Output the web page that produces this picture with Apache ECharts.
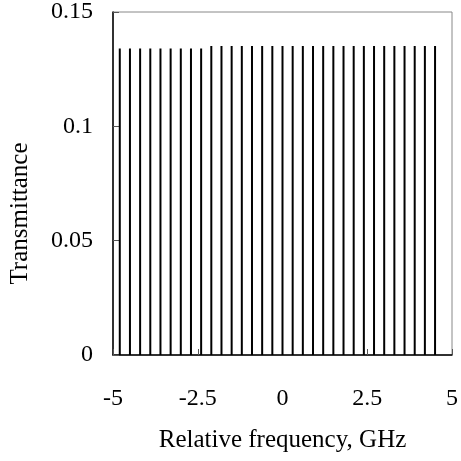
<!DOCTYPE html>
<html>
<head>
<meta charset="utf-8">
<script src="https://cdn.jsdelivr.net/npm/echarts@6/dist/echarts.min.js"></script>
<style>html,body{margin:0;padding:0;background:#fff;}#c{width:461px;height:461px;}</style>
</head>
<body>
<div id="c"></div>
<script>
// Peak positions (GHz) and peak transmittance values
const peakFreqs = [-4.8,-4.5,-4.2,-3.9,-3.6,-3.3,-3.0,-2.7,-2.4,-2.1,-1.8,-1.5,-1.2,-0.9,-0.6,-0.3,0,0.3,0.6,0.9,1.2,1.5,1.8,2.1,2.4,2.7,3.0,3.3,3.6,3.9,4.2,4.5];
const peakValues = [0.1340,0.1340,0.1340,0.1340,0.1340,0.1340,0.1340,0.1340,0.1340,0.1351,0.1351,0.1351,0.1351,0.1351,0.1351,0.1351,0.1351,0.1351,0.1351,0.1351,0.1351,0.1351,0.1351,0.1351,0.1351,0.1351,0.1351,0.1351,0.1351,0.1351,0.1351,0.1351];
const xTicks = {min: -5, max: 5, interval: 2.5};
const yTicks = {min: 0, max: 0.15, interval: 0.05};
const xTitle = 'Relative frequency, GHz';
const yTitle = 'Transmittance';

const font = 'Liberation Serif';
const chart = echarts.init(document.getElementById('c'), null, {renderer: 'canvas'});
chart.setOption({
  animation: false,
  backgroundColor: '#fff',
  grid: {left: 110, right: 5, top: 10, bottom: 106, show: true, borderColor: '#888', borderWidth: 1, backgroundColor: 'transparent'},
  xAxis: {
    type: 'value', min: xTicks.min, max: xTicks.max, interval: xTicks.interval,
    name: xTitle, nameLocation: 'middle', nameGap: 73,
    nameTextStyle: {fontFamily: font, fontSize: 25, color: '#000'},
    axisLine: {show: true, onZero: false, lineStyle: {color: '#000', width: 1.5}},
    axisTick: {show: true, inside: true, length: 6, lineStyle: {color: '#555'}},
    axisLabel: {fontFamily: font, fontSize: 24, color: '#000', margin: 32},
    splitLine: {show: false}
  },
  yAxis: {
    type: 'value', min: yTicks.min, max: yTicks.max, interval: yTicks.interval,
    name: yTitle, nameLocation: 'middle', nameGap: 80, nameRotate: 90,
    nameTextStyle: {fontFamily: font, fontSize: 25, color: '#000', padding: [0, 60, 0, 0]},
    axisLine: {show: true, onZero: false, lineStyle: {color: '#000', width: 1.5}},
    axisTick: {show: true, inside: true, length: 6, lineStyle: {color: '#555'}},
    axisLabel: {fontFamily: font, fontSize: 24, color: '#000', margin: 20,
      formatter: v => String(+v.toFixed(2))},
    splitLine: {show: false}
  },
  series: [{
    type: 'bar',
    data: peakFreqs.map((f, i) => [f, peakValues[i]]),
    barWidth: 2,
    itemStyle: {color: '#000'},
    silent: true
  }]
});
</script>
</body>
</html>
